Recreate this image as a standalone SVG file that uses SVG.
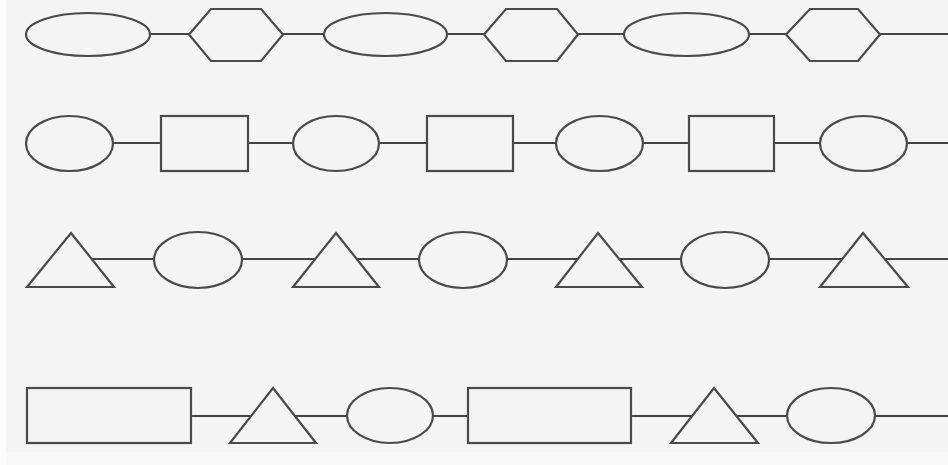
<svg xmlns="http://www.w3.org/2000/svg" width="948" height="465" viewBox="0 0 948 465">
<style>
.bg{fill:#f4f4f4}
.n{fill:#f4f4f4;stroke:#4a4a4a;stroke-width:2.2}
.c{stroke:#444;stroke-width:1.8;fill:none}
</style>
<rect class="bg" x="0" y="0" width="948" height="465"/>
<rect x="0" y="0" width="6" height="465" fill="#fcfcfc"/>
<rect x="6" y="452" width="942" height="13" fill="#f8f8f8"/>
<g id="connectors">
<line class="c" x1="150" y1="34" x2="189" y2="34"/>
<line class="c" x1="283" y1="34" x2="324" y2="34"/>
<line class="c" x1="447" y1="34" x2="484" y2="34"/>
<line class="c" x1="578" y1="34" x2="624" y2="34"/>
<line class="c" x1="749" y1="34" x2="786" y2="34"/>
<line class="c" x1="880" y1="34" x2="948" y2="34"/>
<line class="c" x1="113" y1="143" x2="161" y2="143"/>
<line class="c" x1="248" y1="143" x2="293" y2="143"/>
<line class="c" x1="379" y1="143" x2="427" y2="143"/>
<line class="c" x1="513" y1="143" x2="556" y2="143"/>
<line class="c" x1="643" y1="143" x2="689" y2="143"/>
<line class="c" x1="774" y1="143" x2="820" y2="143"/>
<line class="c" x1="907" y1="143" x2="948" y2="143"/>
<line class="c" x1="92" y1="259" x2="154" y2="259"/>
<line class="c" x1="242" y1="259" x2="315" y2="259"/>
<line class="c" x1="357" y1="259" x2="419" y2="259"/>
<line class="c" x1="507" y1="259" x2="577" y2="259"/>
<line class="c" x1="619" y1="259" x2="681" y2="259"/>
<line class="c" x1="769" y1="259" x2="842" y2="259"/>
<line class="c" x1="884" y1="259" x2="948" y2="259"/>
<line class="c" x1="191" y1="416" x2="252" y2="416"/>
<line class="c" x1="294" y1="416" x2="347" y2="416"/>
<line class="c" x1="433" y1="416" x2="468" y2="416"/>
<line class="c" x1="631" y1="416" x2="692" y2="416"/>
<line class="c" x1="736" y1="416" x2="787" y2="416"/>
<line class="c" x1="875" y1="416" x2="948" y2="416"/>
</g>
<g id="r1n1"><ellipse class="n" cx="88" cy="34.5" rx="62" ry="21.5"/></g>
<g id="r1n2"><polygon class="n" points="189,34.5 211,9 261,9 283,34.5 261,61 211,61"/></g>
<g id="r1n3"><ellipse class="n" cx="385.5" cy="34.5" rx="61.5" ry="21.5"/></g>
<g id="r1n4"><polygon class="n" points="484,34.5 506,9 557,9 578,34.5 557,61 506,61"/></g>
<g id="r1n5"><ellipse class="n" cx="686.5" cy="34.5" rx="62.5" ry="21.5"/></g>
<g id="r1n6"><polygon class="n" points="786,34.5 810,9 858,9 880,34.5 858,61 810,61"/></g>
<g id="r2n1"><ellipse class="n" cx="69.5" cy="143.5" rx="43.5" ry="27.5"/></g>
<g id="r2n2"><rect class="n" x="161" y="116" width="87" height="55"/></g>
<g id="r2n3"><ellipse class="n" cx="336" cy="143.5" rx="43" ry="27.5"/></g>
<g id="r2n4"><rect class="n" x="427" y="116" width="86" height="55"/></g>
<g id="r2n5"><ellipse class="n" cx="599.5" cy="143.5" rx="43.5" ry="27.5"/></g>
<g id="r2n6"><rect class="n" x="689" y="116" width="85" height="55"/></g>
<g id="r2n7"><ellipse class="n" cx="863.5" cy="143.5" rx="43.5" ry="27.5"/></g>
<g id="r3n1"><polygon class="n" points="71,233 114,287 27,287"/></g>
<g id="r3n2"><ellipse class="n" cx="198" cy="260" rx="44" ry="28"/></g>
<g id="r3n3"><polygon class="n" points="336,233 379,287 293,287"/></g>
<g id="r3n4"><ellipse class="n" cx="463" cy="260" rx="44" ry="28"/></g>
<g id="r3n5"><polygon class="n" points="598,233 642,287 556,287"/></g>
<g id="r3n6"><ellipse class="n" cx="725" cy="260" rx="44" ry="28"/></g>
<g id="r3n7"><polygon class="n" points="863,233 908,287 820,287"/></g>
<g id="r4n1"><rect class="n" x="27" y="388" width="164" height="55"/></g>
<g id="r4n2"><polygon class="n" points="273,388 316,443 230,443"/></g>
<g id="r4n3"><ellipse class="n" cx="390" cy="415.5" rx="43" ry="27.5"/></g>
<g id="r4n4"><rect class="n" x="468" y="388" width="163" height="55"/></g>
<g id="r4n5"><polygon class="n" points="714,388 758,443 671,443"/></g>
<g id="r4n6"><ellipse class="n" cx="831" cy="415.5" rx="44" ry="27.5"/></g>
</svg>
